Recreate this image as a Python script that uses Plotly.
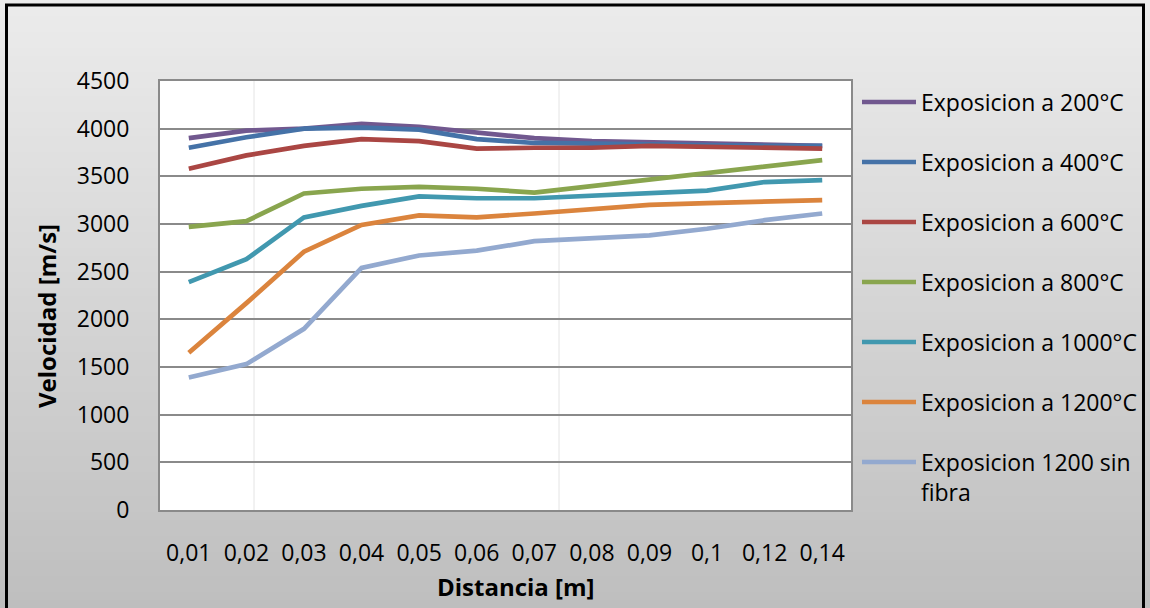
import plotly.graph_objects as go

# Category labels of the distance axis
distancias = ["0,01", "0,02", "0,03", "0,04", "0,05", "0,06",
              "0,07", "0,08", "0,09", "0,1", "0,12", "0,14"]

# Pulse velocity [m/s] for each exposure temperature
v_200 = [3900, 3980, 4000, 4050, 4020, 3960, 3900, 3870, 3860, 3850, 3830, 3820]
v_400 = [3800, 3910, 4000, 4010, 3990, 3890, 3850, 3840, 3840, 3830, 3820, 3820]
v_600 = [3580, 3720, 3820, 3890, 3870, 3790, 3800, 3800, 3820, 3810, 3800, 3790]
v_800 = [2970, 3030, 3320, 3370, 3390, 3370, 3330, 3400, 3460, 3530, 3610, 3670]
v_1000 = [2390, 2630, 3070, 3190, 3290, 3270, 3270, 3300, 3330, 3350, 3440, 3460]
v_1200 = [1650, 2170, 2710, 2990, 3090, 3070, 3110, 3160, 3200, 3220, 3240, 3250]
v_1200_sf = [1390, 1530, 1900, 2540, 2670, 2720, 2820, 2850, 2880, 2950, 3040, 3110]

nombres = ["Exposicion a 200°C", "Exposicion a 400°C", "Exposicion a 600°C",
           "Exposicion a 800°C", "Exposicion a 1000°C", "Exposicion a 1200°C",
           "Exposicion 1200 sin fibra"]
series = [v_200, v_400, v_600, v_800, v_1000, v_1200, v_1200_sf]
colores = ["#71588F", "#4572A7", "#AA4643", "#89A54E", "#4198AF", "#DB843D", "#93A9CF"]

y_ticks = list(range(0, 4501, 500))

# Figure geometry (pixels)
W, H = 1150, 608
ML, MR, MT, MB = 160, 299, 81, 98
PW = W - ML - MR
PH = H - MT - MB


def px_x(px):
    return (px - ML) / PW


def px_y(py):
    return (H - MB - py) / PH


FONT = "Open Sans"

fig = go.Figure()
for nombre, valores, color in zip(nombres, series, colores):
    fig.add_trace(go.Scatter(
        x=distancias, y=valores, mode="lines", name=nombre,
        line=dict(color=color, width=4.7), showlegend=False,
    ))

shapes = []
# Vertical grey gradient behind the whole chart
n_bands = 76
band_h = H / n_bands
for i in range(n_bands):
    t = (i + 0.5) / n_bands
    g = round(236 - (236 - 190) * t)
    shapes.append(dict(
        type="rect", xref="paper", yref="paper",
        x0=px_x(0), x1=px_x(W), y0=px_y((i + 1) * band_h + 1), y1=px_y(i * band_h),
        fillcolor=f"rgb({g},{g},{g})", line=dict(width=0), layer="below",
    ))
# White plotting area
shapes.append(dict(type="rect", xref="paper", yref="paper", x0=0, x1=1, y0=0, y1=1,
                   fillcolor="white", line=dict(width=0), layer="below"))
# Faint vertical guides inside the plotting area
for gx in (254, 559):
    shapes.append(dict(type="line", xref="paper", yref="paper",
                       x0=px_x(gx), x1=px_x(gx), y0=0, y1=1,
                       line=dict(color="#e4e4e4", width=1), layer="below"))
# Outer chart frame
shapes.append(dict(type="rect", xref="paper", yref="paper",
                   x0=px_x(6.5), x1=px_x(1143.5), y0=px_y(640), y1=px_y(5),
                   fillcolor="rgba(0,0,0,0)", line=dict(color="black", width=3),
                   layer="above"))

annotations = []
# Hand-drawn legend to the right of the plot
for i, (nombre, color) in enumerate(zip(nombres, colores)):
    ly = 102 + 60 * i
    shapes.append(dict(type="line", xref="paper", yref="paper",
                       x0=px_x(862), x1=px_x(916), y0=px_y(ly), y1=px_y(ly),
                       line=dict(color=color, width=4.7), layer="above"))
    texto = nombre
    ty = ly
    if nombre == "Exposicion 1200 sin fibra":
        texto = "Exposicion 1200 sin<br>fibra"
        ty = ly + 15
    annotations.append(dict(
        text=texto, xref="paper", yref="paper", x=px_x(919), y=px_y(ty),
        xanchor="left", yanchor="middle", align="left", showarrow=False,
        font=dict(family=FONT, size=23, color="black"),
    ))

# Axis titles
annotations.append(dict(
    text="Distancia [m]", xref="paper", yref="paper", x=px_x(516), y=px_y(586),
    xanchor="center", yanchor="middle", showarrow=False,
    font=dict(family=FONT, size=24, color="black", weight="bold"),
))
annotations.append(dict(
    text="Velocidad [m/s]", xref="paper", yref="paper", x=px_x(46), y=px_y(316),
    xanchor="center", yanchor="middle", textangle=-90, showarrow=False,
    font=dict(family=FONT, size=24, color="black", weight="bold"),
))

fig.update_layout(
    width=W, height=H,
    margin=dict(l=ML, r=MR, t=MT, b=MB, pad=0),
    paper_bgcolor="#d6d6d6",
    plot_bgcolor="rgba(0,0,0,0)",
    font=dict(family=FONT, size=23, color="black"),
    shapes=shapes,
    annotations=annotations,
    showlegend=False,
    xaxis=dict(
        type="category", range=[-0.5, len(distancias) - 0.5],
        showgrid=False, zeroline=False,
        showline=True, linecolor="#8a8a8a", linewidth=2, mirror=True,
        ticks="", ticklabelstandoff=21,
        tickfont=dict(family=FONT, size=23, color="black"),
    ),
    yaxis=dict(
        range=[0, 4500], tickvals=y_ticks,
        showgrid=True, gridcolor="#8a8a8a", gridwidth=2, zeroline=False,
        showline=True, linecolor="#8a8a8a", linewidth=2, mirror=True,
        ticks="", ticklabelstandoff=24,
        tickfont=dict(family=FONT, size=23, color="black"),
    ),
)

fig.write_html("out.html")
